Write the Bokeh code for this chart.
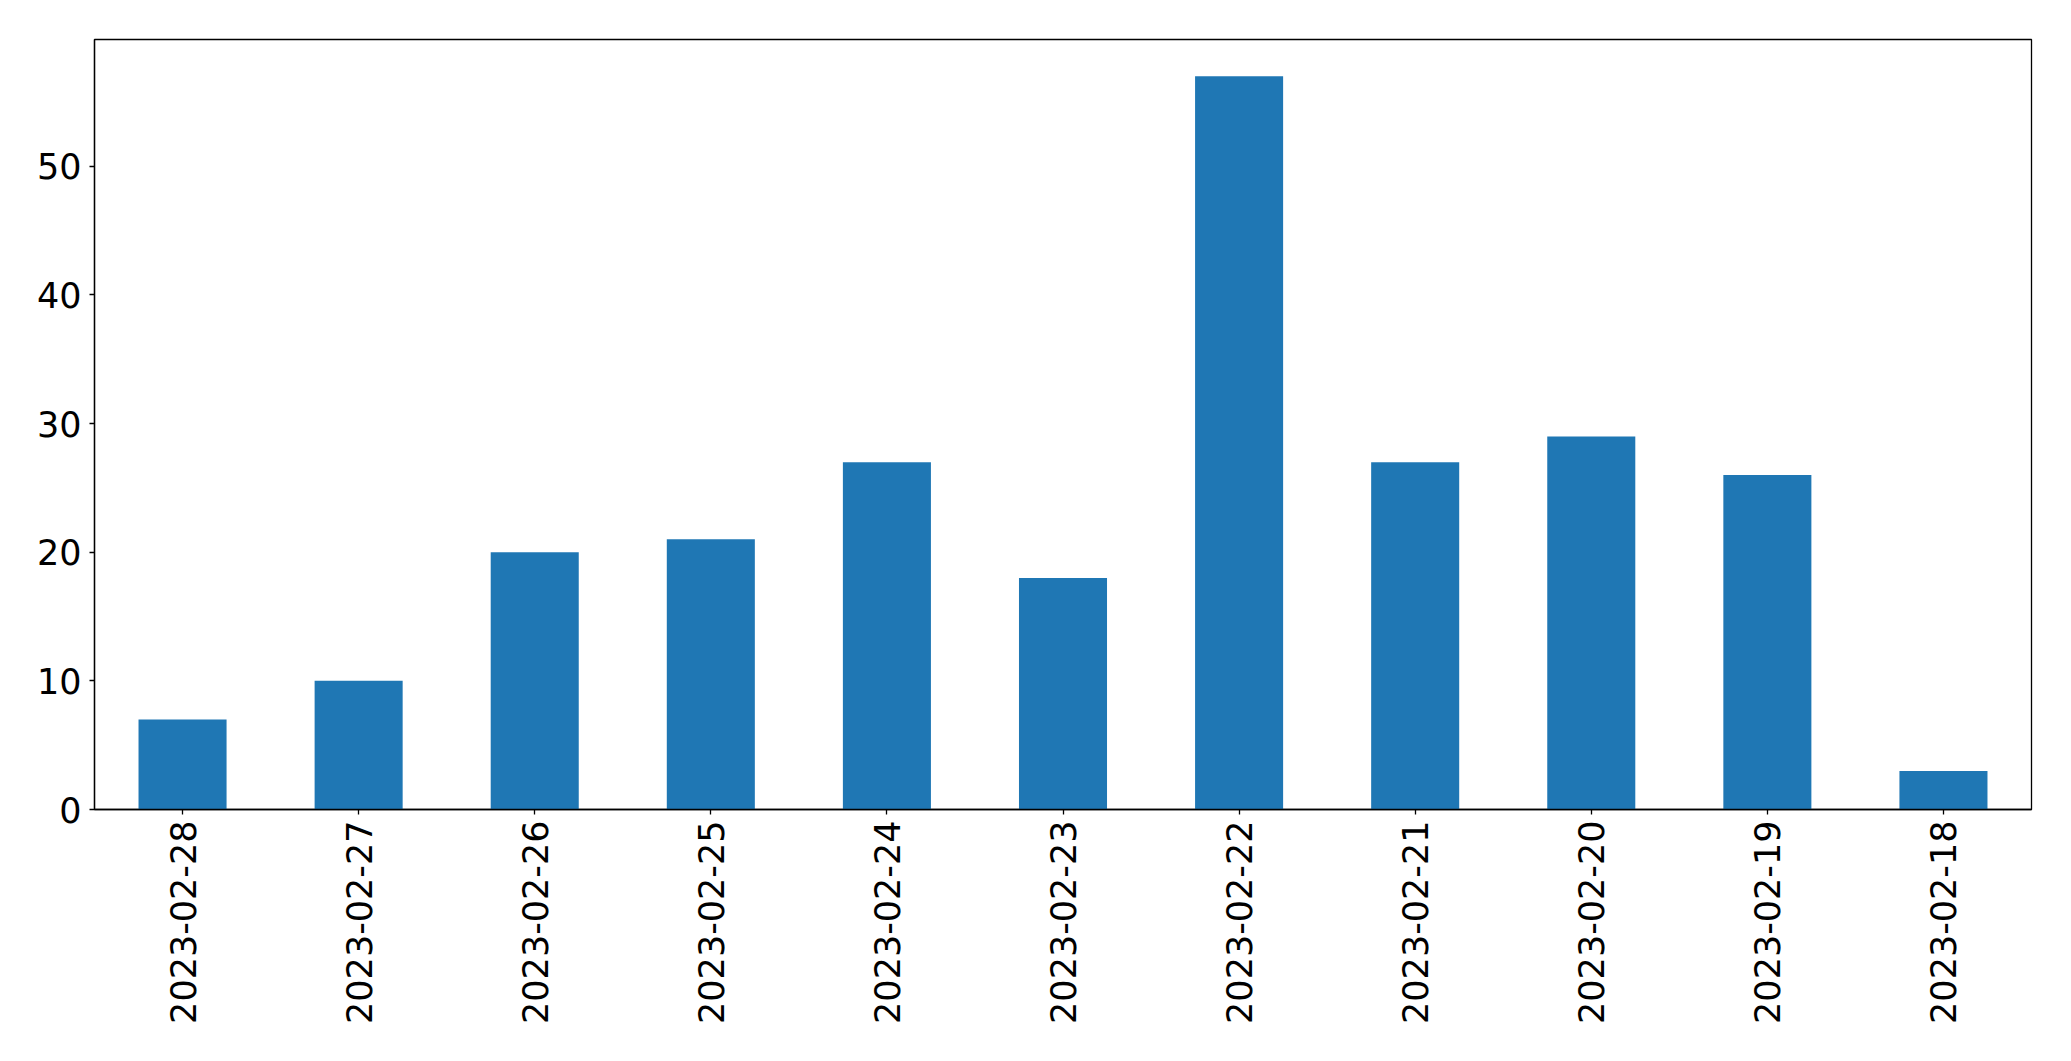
from bokeh.plotting import figure
from bokeh.models import FactorRange, Range1d, FixedTicker, ColumnDataSource
from bokeh.embed import file_html
from bokeh.resources import INLINE
import math

dates = ["2023-02-28", "2023-02-27", "2023-02-26", "2023-02-25", "2023-02-24",
         "2023-02-23", "2023-02-22", "2023-02-21", "2023-02-20", "2023-02-19",
         "2023-02-18"]
counts = [7, 10, 20, 21, 27, 18, 57, 27, 29, 26, 3]
y_ticks = [0, 10, 20, 30, 40, 50]

src = ColumnDataSource(dict(date=dates, count=counts))

p = figure(x_range=FactorRange(*dates), y_range=Range1d(0, max(counts) * 1.05),
           width=2063, height=1045, output_backend="svg", toolbar_location=None,
           min_border_left=94, min_border_right=32, min_border_top=39, min_border_bottom=236)

p.vbar(x="date", top="count", width=0.5, source=src, color="#1f77b4", line_color=None)

p.xgrid.visible = False
p.ygrid.visible = False
p.outline_line_color = "black"
p.outline_line_width = 1.3
p.outline_line_alpha = 1.0

for ax in (p.xaxis[0], p.yaxis[0]):
    ax.axis_line_color = "black"
    ax.axis_line_width = 1.3
    ax.major_tick_line_color = "black"
    ax.major_tick_line_width = 1.3
    ax.major_tick_out = 5
    ax.major_tick_in = 0
    ax.minor_tick_line_color = None
    ax.major_label_text_font = "DejaVu Sans"
    ax.major_label_text_font_size = "35px"
    ax.major_label_text_color = "black"

p.yaxis.ticker = FixedTicker(ticks=y_ticks)
p.yaxis.major_label_standoff = 8
p.xaxis.major_label_orientation = math.pi / 2
p.xaxis.major_label_standoff = 6

open("out.html", "w").write(file_html(p, INLINE))
